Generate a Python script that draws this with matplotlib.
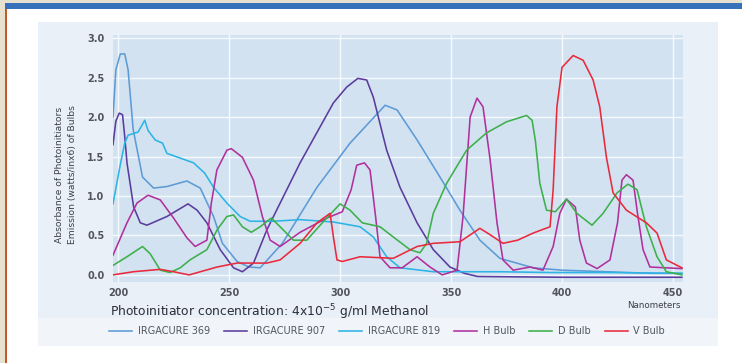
import numpy as np
import matplotlib
matplotlib.use("Agg")
import matplotlib.pyplot as plt
from matplotlib.patches import Rectangle

# wavelength (nm) / absorbance pairs
irg369_x = [197.7, 199, 201, 203, 204.5, 206.8, 211, 216, 222, 231, 237, 243, 247, 253.6, 259, 264,
            274, 289.6, 304.5, 320.3, 325.7, 334.7, 345, 354, 363, 372, 387, 400, 420, 440, 454]
irg369_y = [2.0, 2.6, 2.8, 2.8, 2.6, 1.84, 1.24, 1.1, 1.12, 1.19, 1.1, 0.74, 0.4, 0.17, 0.1, 0.09,
            0.4, 1.11, 1.67, 2.15, 2.09, 1.71, 1.24, 0.82, 0.44, 0.21, 0.09, 0.06, 0.04, 0.02, 0.02]

irg907_x = [197.7, 199, 200.5, 202, 203, 204, 207, 210, 213, 222, 231.5, 235.6, 240, 246, 252, 256,
            261, 267, 282, 297, 303, 308, 312, 315, 321, 327, 334.7, 342, 349.5, 356, 362, 400, 454]
irg907_y = [1.65, 1.95, 2.05, 2.03, 1.75, 1.42, 0.86, 0.66, 0.63, 0.74, 0.9, 0.82, 0.66, 0.32, 0.09, 0.04,
            0.15, 0.57, 1.42, 2.18, 2.38, 2.49, 2.47, 2.25, 1.58, 1.11, 0.66, 0.32, 0.1, 0.02, -0.02, -0.03, -0.03]

irg819_x = [197.7, 201, 203, 204.5, 209, 212, 213.5, 216.7, 220, 222, 228, 234, 239, 243, 249, 255,
            259.5, 270, 282, 297, 309, 315, 321, 327, 342, 372, 395, 420, 454]
irg819_y = [0.9, 1.4, 1.67, 1.77, 1.81, 1.96, 1.83, 1.71, 1.67, 1.54, 1.48, 1.42, 1.29, 1.11, 0.91, 0.74,
            0.68, 0.68, 0.7, 0.67, 0.61, 0.48, 0.23, 0.09, 0.04, 0.04, 0.03, 0.03, 0.02]

h_bulb_x = [197.7, 204, 208.5, 213.5, 219, 225, 231, 234.7, 240, 242, 244.5, 249, 251, 256, 261, 265,
            268.5, 273, 282, 294, 301, 305, 307.5, 311, 313.5, 316, 318, 322.5, 328, 334.7, 340.5, 346,
            352.7, 355.4, 358.6, 361.7, 364.4, 367.6, 370.7, 373.4, 378, 385.6, 391.4, 396, 399, 402, 406,
            408, 411, 415.8, 421.6, 425, 427, 429, 432, 434, 436.5, 439.6, 454]
h_bulb_y = [0.25, 0.66, 0.91, 1.01, 0.95, 0.72, 0.47, 0.36, 0.44, 0.91, 1.33, 1.58, 1.6, 1.49, 1.2, 0.74,
            0.44, 0.36, 0.54, 0.72, 0.8, 1.08, 1.39, 1.42, 1.33, 0.74, 0.23, 0.09, 0.09, 0.23, 0.1, 0.0,
            0.06, 0.74, 2.0, 2.24, 2.13, 1.46, 0.66, 0.19, 0.06, 0.1, 0.06, 0.36, 0.78, 0.96, 0.86,
            0.44, 0.15, 0.08, 0.19, 0.66, 1.2, 1.27, 1.2, 0.78, 0.32, 0.1, 0.08]

d_bulb_x = [197.7, 204, 211, 214.4, 219, 223.4, 228, 232.4, 240, 244.6, 249, 252, 256, 260, 264, 269,
            273, 279, 285, 292, 300, 304.5, 310, 318, 324, 331.5, 336, 339, 342, 348, 357, 366, 375,
            384, 386.5, 388, 390, 393, 397, 402, 406.7, 413.5, 418.5, 424.8, 429.7, 433.8, 438, 442.8,
            447, 454]
d_bulb_y = [0.12, 0.23, 0.36, 0.27, 0.06, 0.03, 0.09, 0.19, 0.32, 0.57, 0.74, 0.76, 0.61, 0.54, 0.61, 0.72,
            0.61, 0.44, 0.44, 0.66, 0.9, 0.82, 0.66, 0.61, 0.48, 0.32, 0.28, 0.4, 0.78, 1.16, 1.58, 1.8, 1.94,
            2.02, 1.96, 1.7, 1.16, 0.82, 0.8, 0.96, 0.78, 0.63, 0.78, 1.04, 1.15, 1.08, 0.61, 0.23,
            0.04, 0.0]

v_bulb_x = [197.7, 206.8, 219, 225, 232, 244.6, 253.6, 267, 273, 282, 289.6, 295.5, 297, 298.6, 301,
            309, 324, 334.7, 342, 354, 363, 367, 373.4, 380, 387, 394.6, 396, 397.7, 400, 405, 409.5,
            414, 417, 420, 423, 429, 438, 442.8, 447, 454]
v_bulb_y = [0.0, 0.04, 0.07, 0.04, 0.0, 0.1, 0.15, 0.15, 0.19, 0.4, 0.66, 0.78, 0.48, 0.19, 0.17,
            0.23, 0.21, 0.36, 0.4, 0.42, 0.59, 0.52, 0.4, 0.44, 0.53, 0.61, 1.08, 2.13, 2.63, 2.78, 2.72,
            2.47, 2.13, 1.49, 1.04, 0.82, 0.66, 0.53, 0.19, 0.09]

series = [
    ("IRGACURE 369", irg369_x, irg369_y, "#5d9bd6"),
    ("IRGACURE 907", irg907_x, irg907_y, "#5a3c9c"),
    ("IRGACURE 819", irg819_x, irg819_y, "#2db4e6"),
    ("H Bulb", h_bulb_x, h_bulb_y, "#b0309c"),
    ("D Bulb", d_bulb_x, d_bulb_y, "#3cb04a"),
    ("V Bulb", v_bulb_x, v_bulb_y, "#e82a3c"),
]

x_ticks = [200, 250, 300, 350, 400, 450]
y_ticks = [0.0, 0.5, 1.0, 1.5, 2.0, 2.5, 3.0]

W, H = 742, 363
fig = plt.figure(figsize=(W / 100, H / 100), dpi=100, facecolor="white")


def px_rect(x0, y0, x1, y1, color):
    # rectangle given in image pixel coords (origin top-left), kept behind the axes
    fig.patches.append(Rectangle((x0 / W, 1 - y1 / H), (x1 - x0) / W, (y1 - y0) / H,
                                 transform=fig.transFigure, facecolor=color,
                                 edgecolor="none", zorder=-10))


# page frame
px_rect(0, 0, W, 3, "#e7e1cf")
px_rect(0, 0, 5, H, "#e7e1cf")
px_rect(5, 8, 7, H, "#c25a26")
px_rect(5, 2.5, W, 8.5, "#3572b9")
# soft blue panel behind the chart
px_rect(38, 22, 718, 346, "#e9f0f8")
px_rect(38, 318, 718, 346, "#f1f5fa")

ax = fig.add_axes([113 / W, 1 - 282 / H, 570 / W, 247 / H])
ax.set_zorder(5)
ax.set_facecolor("#d3e2f1")
for sp in ax.spines.values():
    sp.set_visible(False)

for name, xs, ys, col in series:
    ax.plot(xs, ys, color=col, lw=1.15, label=name, solid_joinstyle="round", zorder=3)

ax.set_xlim(197.7, 454.5)
ax.set_ylim(-0.09, 3.04)
ax.set_xticks(x_ticks)
ax.set_yticks(y_ticks)
ax.set_xticklabels([str(t) for t in x_ticks])
ax.set_yticklabels([f"{t:.1f}" for t in y_ticks])
ax.tick_params(length=0, labelsize=7, colors="#50555f", pad=6)
ax.tick_params(axis="x", pad=4)
for lbl in ax.get_xticklabels() + ax.get_yticklabels():
    lbl.set_fontweight("bold")
ax.grid(True, color="white", lw=1.0, alpha=0.8)
ax.set_axisbelow(True)

fig.text(60 / W, 1 - 175 / H, "Absorbance of Photoinitiators", rotation=90,
         ha="center", va="center", fontsize=6.6, color="#3a3f4a")
fig.text(73 / W, 1 - 175 / H, "Emission (watts/inx6) of Bulbs", rotation=90,
         ha="center", va="center", fontsize=6.6, color="#3a3f4a")
fig.text(110 / W, 1 - 312 / H, r"Photoinitiator concentration: 4x10$^{-5}$ g/ml Methanol",
         ha="left", va="center", fontsize=8.9, color="#2a2e36")
fig.text(681 / W, 1 - 306 / H, "Nanometers", ha="right", va="center", fontsize=6.3,
         color="#3a3f4a")

leg = ax.legend(loc="upper left", bbox_to_anchor=(109 / W, 1 - 326 / H),
                bbox_transform=fig.transFigure, ncol=6, frameon=False, fontsize=7.0,
                handlelength=2.4, columnspacing=1.45, handletextpad=0.55, borderpad=0,
                borderaxespad=0)
for t in leg.get_texts():
    t.set_color("#50555f")

fig.savefig("out.png", dpi=100, facecolor=fig.get_facecolor())
